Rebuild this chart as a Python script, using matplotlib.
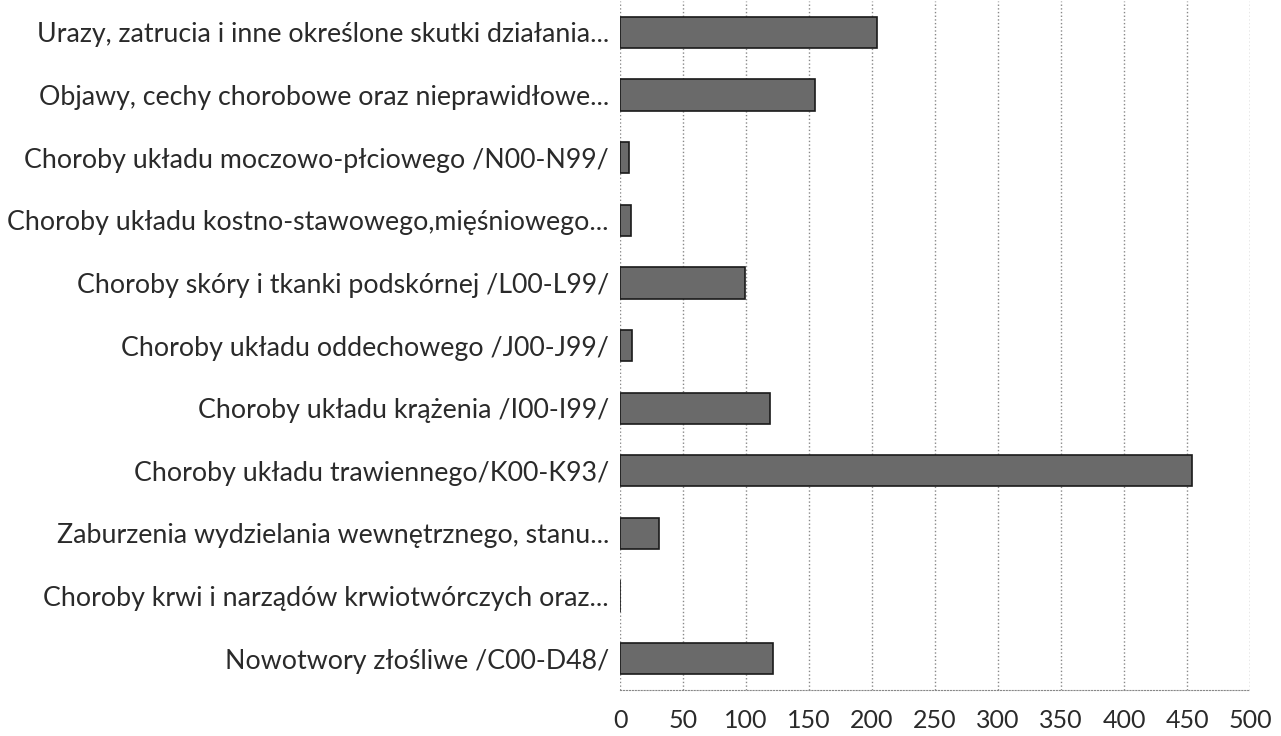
import numpy as np
import matplotlib.pyplot as plt

categories = [
    "Urazy, zatrucia i inne określone skutki działania...",
    "Objawy, cechy chorobowe oraz nieprawidłowe...",
    "Choroby układu moczowo-płciowego /N00-N99/",
    "Choroby układu kostno-stawowego,mięśniowego...",
    "Choroby skóry i tkanki podskórnej /L00-L99/",
    "Choroby układu oddechowego /J00-J99/",
    "Choroby układu krążenia /I00-I99/",
    "Choroby układu trawiennego/K00-K93/",
    "Zaburzenia wydzielania wewnętrznego, stanu...",
    "Choroby krwi i narządów krwiotwórczych oraz...",
    "Nowotwory złośliwe /C00-D48/",
]
values = [204, 155, 7, 8.5, 99, 9.5, 119, 454, 31, 0, 121]
xticks = [0, 50, 100, 150, 200, 250, 300, 350, 400, 450, 500]

plt.rcParams["font.family"] = ["Lato", "DejaVu Sans"]

fig = plt.figure(figsize=(12.81, 7.36), dpi=100)
ax = fig.add_axes([0.484, 0.0625, 0.492, 0.936])

y = np.arange(len(categories))
ax.barh(y, values, height=0.5, color="#6a6a6a", edgecolor="#1a1a1a", lw=1.2, zorder=3)

ax.set_xlim(0, 500)
ax.set_ylim(len(categories) - 0.5, -0.5)
ax.set_xticks(xticks)
ax.set_yticks(y)
ax.set_yticklabels(categories, fontsize=19.3, color="#2a2a2a")
ax.tick_params(axis="x", labelsize=18, colors="#2a2a2a", length=0, pad=14)
ax.tick_params(axis="y", length=0, pad=8)

ax.grid(axis="x", linestyle=":", color="#888888", lw=1.0, zorder=0)
for s in ["top", "right", "left"]:
    ax.spines[s].set_visible(False)
ax.spines["bottom"].set_linestyle(":")
ax.spines["bottom"].set_color("#888888")

fig.savefig("out.png", dpi=100)
